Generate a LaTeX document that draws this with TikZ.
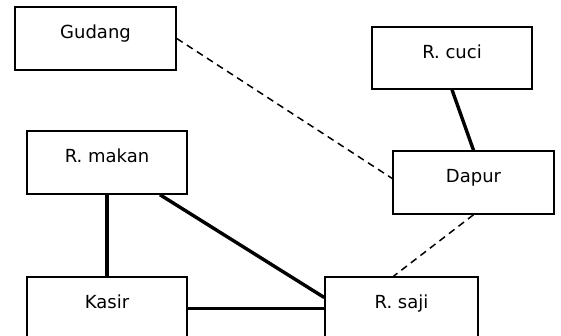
\documentclass[tikz,border=0pt]{standalone}
\usepackage{fontspec}
\setmainfont{DejaVu Sans}

\begin{document}
\begin{tikzpicture}[x=1pt,y=-1pt,
	ruang/.style={draw, line width=1.5pt, minimum width=160pt, minimum height=63pt,
		font=\fontsize{18}{21}\selectfont, text height=8pt, text depth=8pt},
	dekat/.style={line width=3.4pt},
	jauh/.style={line width=1.5pt, dash pattern=on 7pt off 5pt}]
				\clip (0,0) rectangle (561,335);
				
				\node[ruang, minimum width=161pt] (gudang) at (95.5,38.5) {Gudang};
				\node[ruang, minimum height=62pt] (cuci) at (452,58) {R. cuci};
				\node[ruang] (makan) at (107,162.5) {R. makan};
				\node[ruang, minimum width=161pt] (dapur) at (473.5,182.5) {Dapur};
				\node[ruang] (kasir) at (107,308.5) {Kasir};
				\node[ruang, minimum width=153pt] (saji) at (401.5,308.5) {R. saji};
				
				\draw[jauh] (gudang.east) -- ([yshift=4pt]dapur.west);
				\draw[jauh] (dapur.south) -- ([xshift=-8pt]saji.north);
				
				\draw[dekat] (cuci.south) -- (dapur.north);
				\draw[dekat] (makan.south) -- (kasir.north);
				\draw[dekat] ([xshift=53pt]makan.south) -- ([yshift=11pt]saji.west);
				\draw[dekat] (kasir.east) -- (saji.west);
				\end{tikzpicture}
\end{document}
